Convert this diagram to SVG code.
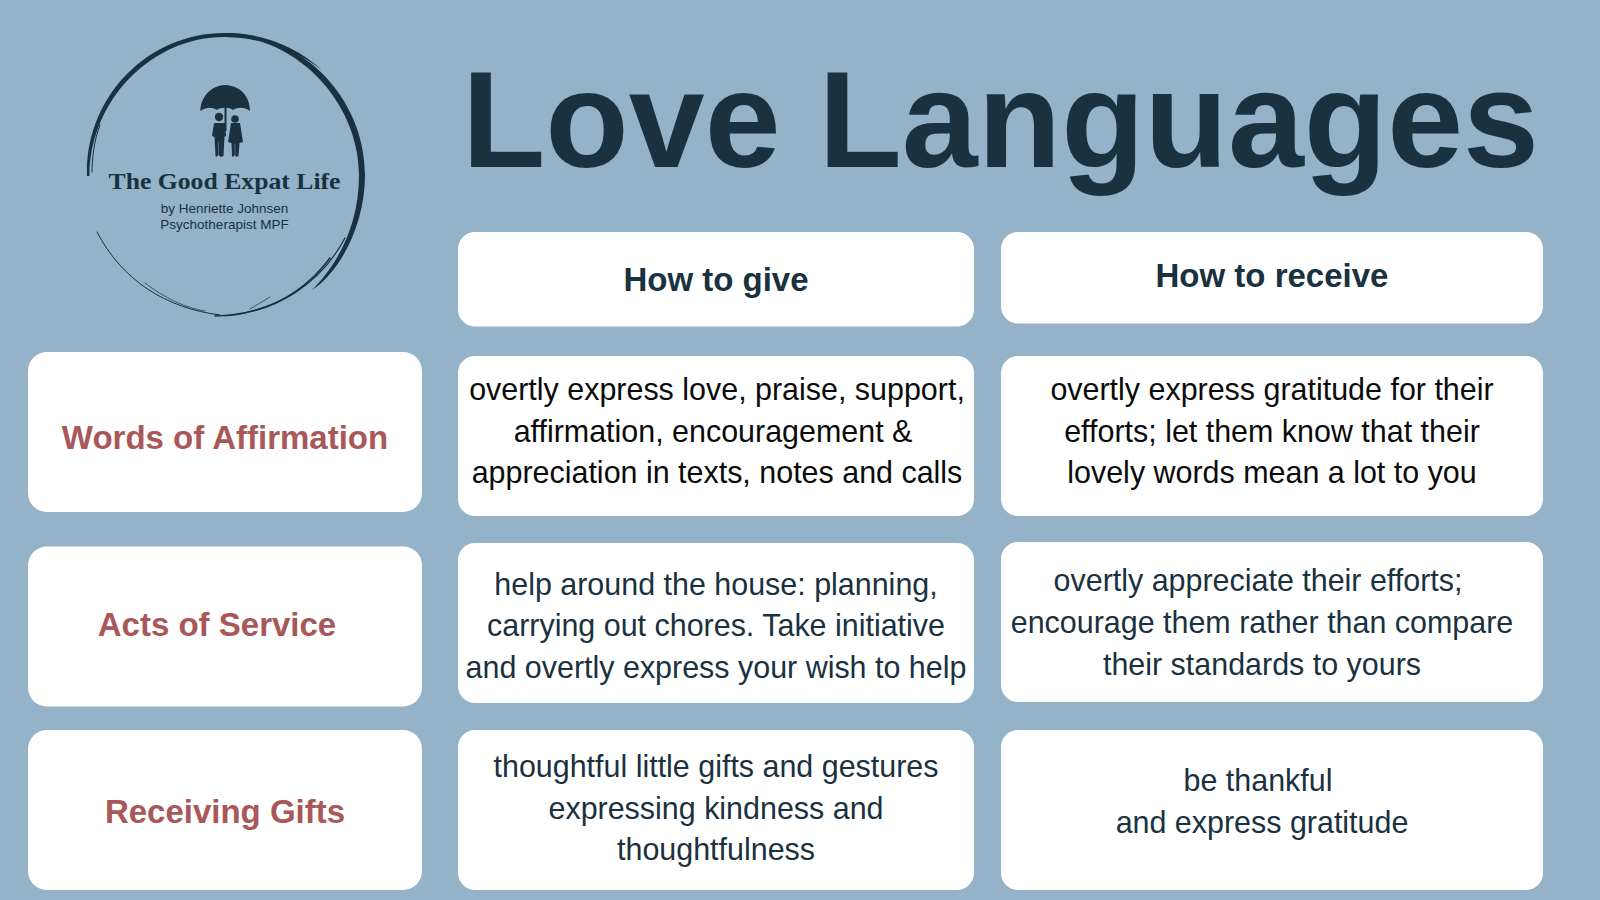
<svg xmlns="http://www.w3.org/2000/svg" width="1600" height="900" viewBox="0 0 1600 900">
<style>
text{font-family:"Liberation Sans",Arial,sans-serif;text-anchor:middle}
.card{fill:#fff}
.h{font-size:33px;font-weight:700;fill:#1a3140}
.r{font-size:33px;font-weight:700;fill:#a85858}
.b{font-size:30.450px;fill:#1a3140}
.k{font-size:30.450px;fill:#0b0b0b}
.ring{fill:none;stroke:#1a3140;stroke-linecap:round}
</style>
<rect width="1600" height="900" fill="#94b3c8"/>
<g id="logo">
<path fill="#1a3140" d="M87 176C85 95 150 32 226 33C262 33 296 46 322 70C296 50 262 38 226 37C154 36 90 98 89.500 176Z"/>
<path fill="#1a3140" d="M226 33C305 34 365 100 365 175C365 225 340 272 312 290C334 268 359 230 359 175C359 105 300 38 226 35.500Z"/>
<path class="ring" stroke-width="1" d="M92 172C92 160 94 140 100 125"/>
<path class="ring" stroke-width="1.200" d="M258 38C320 55 362 115 361.500 175"/>
<path class="ring" stroke-width="1.500" d="M330 258C300 298 260 315 215 316"/>
<path class="ring" stroke-width="1.200" d="M345 238C320 285 275 312 225 316"/>
<path class="ring" stroke-width="1" d="M97 232C122 280 165 308 220 315"/>
<path class="ring" stroke-width=".7" d="M145 283C165 298 185 308 205 311"/>
<path class="ring" stroke-width=".7" d="M250 309L270 297"/>
<path fill="#1a3140" d="M225 85C207 86 200 102 200.500 111C206 107 212 107 217 110C220 107 230 107 233 110C238 107 245 107 250 111C250 100 244 86 225 85Z"/>
<rect x="224.500" y="105" width="2" height="26" fill="#1a3140"/>
<circle cx="219" cy="117" r="4.200" fill="#1a3140"/>
<circle cx="235" cy="119" r="3.800" fill="#1a3140"/>
<path fill="#1a3140" d="M214 123H225L226 136L224.500 137L223.500 156Q220 158 218.700 155V142H218.300V155Q216 158 215.500 156L214.500 137L212 136Z"/>
<path fill="#1a3140" d="M231 123H240L243 142L239.500 143L238.500 156Q235.500 158 235.200 155V144H234.800V155Q233 158 232 156L231.500 143L228 142Z"/>
<text x="224.500" y="189" font-size="23" font-weight="700" style="font-family:'Liberation Serif',serif" fill="#1a3140" textLength="232" lengthAdjust="spacingAndGlyphs">The Good Expat Life</text>
<text x="224.500" y="212.500" font-size="13.500" fill="#1a3140">by Henriette Johnsen</text>
<text x="224.500" y="228.500" font-size="13.500" fill="#1a3140">Psychotherapist MPF</text>
</g>
<g id="title"><text x="1000.500" y="167" font-size="136.500" font-weight="700" fill="#1a3140">Love Languages</text></g>
<g id="head-give"><rect class="card" x="458" y="232" width="516" height="94.500" rx="17"/><text class="h" x="716" y="291">How to give</text></g>
<g id="head-receive"><rect class="card" x="1001" y="232" width="542" height="91.500" rx="17"/><text class="h" x="1272" y="287">How to receive</text></g>
<g id="row1-name"><rect class="card" x="28" y="352" width="394" height="160" rx="19"/><text class="r" x="225" y="449">Words of Affirmation</text></g>
<g id="row1-give"><rect class="card" x="458" y="356" width="516" height="160" rx="17"/><text class="k" x="717" y="400">overtly express love, praise, support,</text><text class="k" x="713" y="442">affirmation, encouragement &amp;</text><text class="k" x="717" y="483">appreciation in texts, notes and calls</text></g>
<g id="row1-receive"><rect class="card" x="1001" y="356" width="542" height="160" rx="17"/><text class="k" x="1272" y="400">overtly express gratitude for their</text><text class="k" x="1272" y="442">efforts; let them know that their</text><text class="k" x="1272" y="483">lovely words mean a lot to you</text></g>
<g id="row2-name"><rect class="card" x="28" y="546.500" width="394" height="160" rx="19"/><text class="r" x="217" y="636">Acts of Service</text></g>
<g id="row2-give"><rect class="card" x="458" y="543" width="516" height="160" rx="17"/><text class="b" x="716" y="595">help around the house: planning,</text><text class="b" x="716" y="636">carrying out chores. Take initiative</text><text class="b" x="716" y="678">and overtly express your wish to help</text></g>
<g id="row2-receive"><rect class="card" x="1001" y="542" width="542" height="160" rx="17"/><text class="b" x="1258" y="591">overtly appreciate their efforts;</text><text class="b" x="1262" y="633">encourage them rather than compare</text><text class="b" x="1262" y="675">their standards to yours</text></g>
<g id="row3-name"><rect class="card" x="28" y="730" width="394" height="160" rx="19"/><text class="r" x="225" y="823">Receiving Gifts</text></g>
<g id="row3-give"><rect class="card" x="458" y="730" width="516" height="160" rx="17"/><text class="b" x="716" y="777">thoughtful little gifts and gestures</text><text class="b" x="716" y="819">expressing kindness and</text><text class="b" x="716" y="860">thoughtfulness</text></g>
<g id="row3-receive"><rect class="card" x="1001" y="730" width="542" height="160" rx="17"/><text class="b" x="1258" y="791">be thankful</text><text class="b" x="1262" y="833">and express gratitude</text></g>
</svg>
